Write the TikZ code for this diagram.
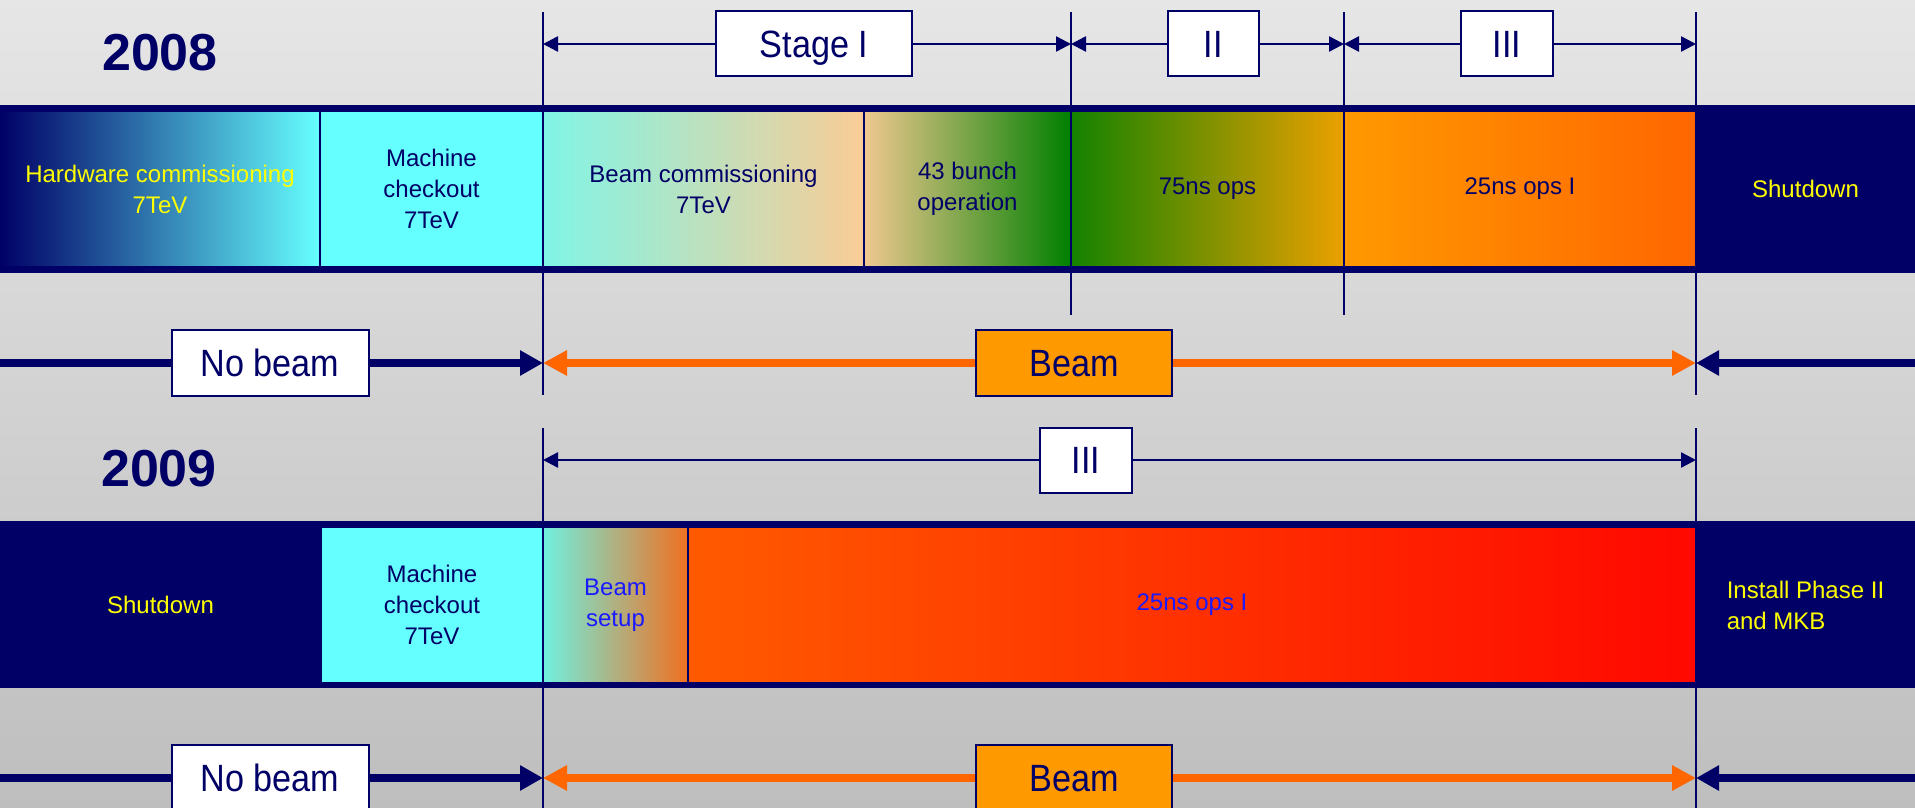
\documentclass[tikz,border=0pt]{standalone}
\usepackage{fontspec}
\setmainfont{Liberation Sans}
\newfontfamily\lblfont[FakeStretch=0.9]{Liberation Sans}
\usetikzlibrary{arrows.meta}
\definecolor{navy}{HTML}{000066}
\definecolor{cyanbar}{HTML}{66FFFF}
\definecolor{bgtop}{HTML}{E6E6E6}
\definecolor{bgbot}{HTML}{BEBEBE}
\definecolor{beamorange}{HTML}{FF6600}
\definecolor{beamfill}{HTML}{FF9900}
\definecolor{txtyellow}{HTML}{FFFF00}
\definecolor{txtblue}{HTML}{1A1AFF}
\definecolor{bcleft}{HTML}{80F5E6}
\definecolor{peach}{HTML}{FACC96}
\definecolor{peachb}{HTML}{F0C890}
\definecolor{green43}{HTML}{008000}
\definecolor{green75}{HTML}{148200}
\definecolor{orange75}{HTML}{EBA000}
\definecolor{or25a}{HTML}{FF9900}
\definecolor{or25b}{HTML}{FF6600}
\definecolor{bsleft}{HTML}{70F0E0}
\definecolor{bsright}{HTML}{F07020}
\definecolor{red25a}{HTML}{FF5A00}
\definecolor{red25b}{HTML}{FF0800}
\begin{document}
\begin{tikzpicture}[x=1pt,y=-1pt,
  seg/.style={anchor=north west, inner sep=0pt, outer sep=0pt, minimum height=156pt,
    draw=navy, line width=2.5pt, align=center, font=\fontsize{24}{31}\selectfont, text=navy},
  barframe/.style={anchor=north west, inner sep=0pt, outer sep=0pt, fill=navy, minimum width=1915pt},
  lblbox/.style={draw=navy, line width=2pt, fill=white, inner sep=0pt, minimum height=65pt,
    text height=27pt, text depth=0pt, font=\lblfont\fontsize{38}{44}\selectfont, text=navy},
  yearlbl/.style={font=\bfseries\fontsize{52}{60}\selectfont, text=navy},
  tickline/.style={draw=navy, line width=2pt},
  dimarrow/.style={draw=navy, line width=2.5pt, -{Triangle[length=15pt,width=15pt]}},
  navyarrow/.style={draw=navy, line width=8pt, -{Triangle[length=23pt,width=24pt]}},
  orangearrow/.style={draw=beamorange, line width=8pt, -{Triangle[length=24pt,width=24pt]}}
]
\useasboundingbox (0,0) rectangle (1915,808);
\clip (0,0) rectangle (1915,808);
% background
\shade[top color=bgtop, bottom color=bgbot] (0,0) rectangle (1915,808);

% coordinates
\coordinate (d1a) at (543,44);
\coordinate (d1b) at (1071,44);
\coordinate (d2a) at (1071,44);
\coordinate (d2b) at (1344,44);
\coordinate (d3a) at (1344,44);
\coordinate (d3b) at (1696,44);
\coordinate (d4a) at (543,460);
\coordinate (d4b) at (1696,460);
\coordinate (L08) at (0,363);
\coordinate (A08) at (543,363);
\coordinate (B08) at (1696,363);
\coordinate (R08) at (1915,363);
\coordinate (L09) at (0,778);
\coordinate (A09) at (543,778);
\coordinate (B09) at (1696,778);
\coordinate (R09) at (1915,778);

% 2008 bar
\node[barframe, minimum height=168pt] (frame08) at (0,105) {};
\node[seg, minimum width=320pt, left color=navy, right color=cyanbar, text=txtyellow] (hw08) at (0,111) {Hardware commissioning\\7TeV};
\node[seg, minimum width=223pt, fill=cyanbar] (mc08) at (320,111) {Machine\\checkout\\7TeV};
\node[seg, minimum width=321pt, left color=bcleft, right color=peach] (bc08) at (543,111) {Beam commissioning\\7TeV};
\node[seg, minimum width=207pt, left color=peachb, right color=green43] (b4308) at (864,111) {43 bunch\\operation};
\node[seg, minimum width=273pt, left color=green75, right color=orange75] (ns7508) at (1071,111) {75ns ops};
\node[seg, minimum width=352pt, left color=or25a, right color=or25b] (ns2508) at (1344,111) {25ns ops I};
\node[seg, minimum width=219pt, fill=navy, text=txtyellow] (sd08) at (1696,111) {Shutdown};

% 2009 bar
\node[barframe, minimum height=167pt] (frame09) at (0,521) {};
\node[seg, minimum width=321pt, fill=navy, text=txtyellow] (sd09) at (0,527) {Shutdown};
\node[seg, minimum width=222pt, fill=cyanbar] (mc09) at (321,527) {Machine\\checkout\\7TeV};
\node[seg, minimum width=145pt, left color=bsleft, right color=bsright, text=txtblue] (bs09) at (543,527) {Beam\\setup};
\node[seg, minimum width=1008pt, left color=red25a, right color=red25b, text=txtblue] (ns2509) at (688,527) {25ns ops I};
\node[seg, minimum width=219pt, fill=navy, text=txtyellow, align=left] (inst09) at (1696,527) {Install Phase II\\and MKB};

% vertical tick lines
\draw[tickline] (543,12) -- (543,395);
\draw[tickline] (543,428) -- (543,808);
\draw[tickline] (1071,12) -- (1071,315);
\draw[tickline] (1344,12) -- (1344,315);
\draw[tickline] (1696,12) -- (1696,395);
\draw[tickline] (1696,428) -- (1696,808);

% years
\node[yearlbl] (y08) at (160,53) {2008};
\node[yearlbl] (y09) at (159,469) {2009};

% stage boxes
\node[lblbox, minimum width=196pt] (st1) at (814,44) {Stage I};
\node[lblbox, minimum width=91pt] (st2) at (1213,44) {II};
\node[lblbox, minimum width=92pt] (st3) at (1507,44) {III};
\node[lblbox, minimum width=92pt] (st3b) at (1086,460) {III};
\draw[dimarrow] (st1.west) -- (d1a);
\draw[dimarrow] (st1.east) -- (d1b);
\draw[dimarrow] (st2.west) -- (d2a);
\draw[dimarrow] (st2.east) -- (d2b);
\draw[dimarrow] (st3.west) -- (d3a);
\draw[dimarrow] (st3.east) -- (d3b);
\draw[dimarrow] (st3b.west) -- (d4a);
\draw[dimarrow] (st3b.east) -- (d4b);

% beam rows
\node[lblbox, minimum width=197pt, minimum height=66pt] (nb08) at (270,363) {No beam};
\node[lblbox, minimum width=196pt, minimum height=66pt, fill=beamfill] (bm08) at (1074,363) {Beam};
\draw[draw=navy, line width=8pt] (L08) -- (nb08.west);
\draw[navyarrow] (nb08.east) -- (A08);
\draw[orangearrow] (bm08.west) -- (A08);
\draw[orangearrow] (bm08.east) -- (B08);
\draw[navyarrow] (R08) -- (B08);

\node[lblbox, minimum width=197pt, minimum height=66pt] (nb09) at (270,778) {No beam};
\node[lblbox, minimum width=196pt, minimum height=66pt, fill=beamfill] (bm09) at (1074,778) {Beam};
\draw[draw=navy, line width=8pt] (L09) -- (nb09.west);
\draw[navyarrow] (nb09.east) -- (A09);
\draw[orangearrow] (bm09.west) -- (A09);
\draw[orangearrow] (bm09.east) -- (B09);
\draw[navyarrow] (R09) -- (B09);
\end{tikzpicture}
\end{document}
